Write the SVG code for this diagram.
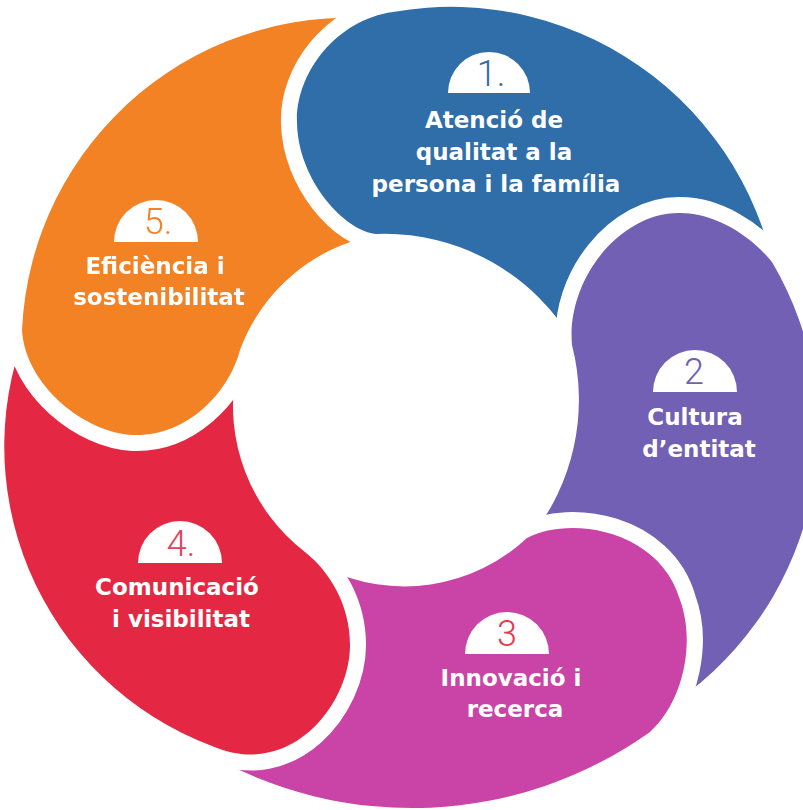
<svg xmlns="http://www.w3.org/2000/svg" width="803" height="810" viewBox="0 0 803 810">
<defs>
<style>
.seg{stroke:#fff;stroke-width:32;stroke-linejoin:round;paint-order:stroke}
.lbl{font-family:"DejaVu Sans",sans-serif;font-weight:bold;font-size:23px;fill:#fff;text-anchor:middle}
.num{font-family:Roboto,"Noto Sans",sans-serif;font-weight:300;font-size:36px;text-anchor:middle}
.badge{fill:#fff}
</style>
<path id="shape-blue" d="M377,234 C345,232 298,180 297,123 C295,75 335,20 393,12 A330 330 0 0 1 780,312 L575,345 A219 219 0 0 0 377,234 Z"/>
<clipPath id="clip-blue-head"><rect x="250" y="-20" width="220" height="282"/></clipPath>
<mask id="mask-orange" maskUnits="userSpaceOnUse" x="0" y="0" width="803" height="810">
<rect x="0" y="0" width="803" height="810" fill="#fff"/>
<use href="#shape-blue" fill="#000" stroke="#000" stroke-width="32" stroke-linejoin="round" clip-path="url(#clip-blue-head)"/>
</mask>
</defs>
<rect width="803" height="810" fill="#fff"/>
<g id="connectors"></g>
<g id="node-1">
<use href="#shape-blue" class="seg" fill="#2f6ea9"/>
<path class="badge" d="M448,93 A41 41 0 0 1 530,93 Z"/>
<text class="num" x="491" y="86" fill="#2f6ea9">1.</text>
<text class="lbl" x="494" y="128">Atenció de</text>
<text class="lbl" x="494" y="160">qualitat a la</text>
<text class="lbl" x="496" y="192">persona i la família</text>
</g>
<g id="node-2">
<path class="seg" fill="#7160b3" d="M572,345 C566,280 620,212 680,213 C715,213 750,235 772,262 A330 330 0 0 1 663,710 L530,538 A220 220 0 0 0 572,345 Z"/>
<path class="badge" d="M653,392 A42 42 0 0 1 737,392 Z"/>
<text class="num" x="694" y="384" fill="#7160b3">2</text>
<text class="lbl" x="695" y="425">Cultura</text>
<text class="lbl" x="699" y="457">d’entitat</text>
</g>
<g id="node-3">
<path class="seg" fill="#c944a6" d="M527,538 C570,515 660,530 680,600 C695,640 685,700 650,732 A410 410 0 0 1 205,752 L325,568 A180 180 0 0 0 527,538 Z"/>
<path class="badge" d="M465,654 A42 42 0 0 1 549,654 Z"/>
<text class="num" x="507" y="646" fill="#e8394f">3</text>
<text class="lbl" x="511" y="686">Innovació i</text>
<text class="lbl" x="515" y="717">recerca</text>
</g>
<g id="node-4">
<path class="seg" fill="#e42843" d="M305,552 C330,572 350,605 350,645 C350,705 290,780 212,746 A320 320 0 0 1 32,316 L236,372 A185 185 0 0 0 305,552 Z"/>
<path class="badge" d="M138,563 A42 42 0 0 1 222,563 Z"/>
<text class="num" x="181" y="556" fill="#e5405a">4.</text>
<text class="lbl" x="177" y="595">Comunicació</text>
<text class="lbl" x="181" y="627">i visibilitat</text>
</g>
<g id="node-5" mask="url(#mask-orange)">
<path class="seg" fill="#f38225" d="M240,350 C228,395 185,437 133,435 C85,433 25,385 22,330 A327 327 0 0 1 394.5,21 L372,236 A180 180 0 0 0 240,350 Z"/>
<path class="badge" d="M114,242 A42 42 0 0 1 198,242 Z"/>
<text class="num" x="158" y="234" fill="#f38225">5.</text>
<text class="lbl" x="155" y="274">Eficiència i</text>
<text class="lbl" x="159" y="305">sostenibilitat</text>
</g>
</svg>
